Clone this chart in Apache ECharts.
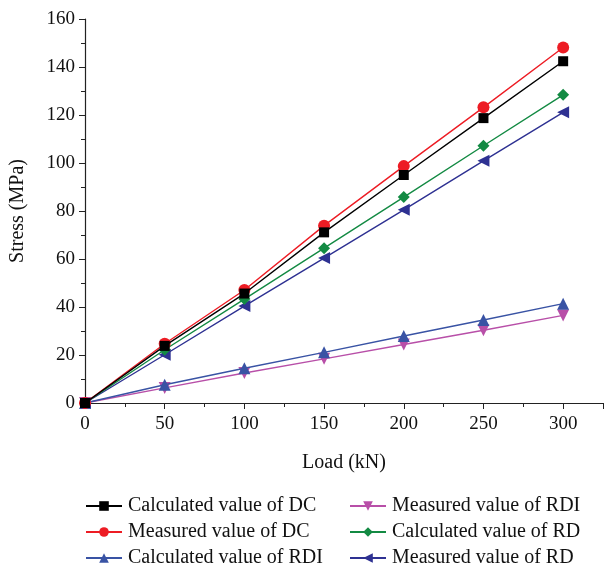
<!DOCTYPE html>
<html><head><meta charset="utf-8">
<script src="https://cdn.jsdelivr.net/npm/echarts@6/dist/echarts.min.js"></script>
<style>html,body{margin:0;padding:0;background:#fff}#c{width:606px;height:567px}</style>
</head><body><div id="c"></div>
<script>
const loads = [0, 50, 100, 150, 200, 250, 300];
const calcDC  = [0, 23.8, 45.6, 71.1, 95.0, 118.7, 142.4];
const measDC  = [0, 24.7, 47.1, 73.9, 98.7, 123.2, 148.1];
const calcRDI = [0, 7.6, 14.5, 21.1, 27.9, 34.6, 41.4];
const measRDI = [0, 6.3, 12.5, 18.4, 24.4, 30.3, 36.5];
const calcRD  = [0, 22.2, 43.3, 64.5, 85.8, 107.2, 128.4];
const measRD  = [0, 20.1, 40.4, 60.4, 80.5, 100.9, 121.1];

const names = ['Calculated value of DC','Measured value of DC','Calculated value of RDI','Measured value of RDI','Calculated value of RD','Measured value of RD'];
const values = [calcDC, measDC, calcRDI, measRDI, calcRD, measRD];
const colors = ['#000000','#ed1c24','#3953a4','#b84fa8','#138a43','#2e3192'];
const symbols = ['rect','circle','triangle','triangle','diamond','triangle'];
const rotates = [0,0,0,180,0,90];
const sizes = [10,12,12,12,12,12];

const font = 'Liberation Serif';
const legendText = {fontFamily:font,fontSize:20,color:'#111',padding:[0,0,0,1]};
const chart = echarts.init(document.getElementById('c'));
chart.setOption({
  animation:false,
  grid:{left:84,top:19,right:3,bottom:164,containLabel:false},
  xAxis:{type:'value',min:0,max:325,interval:50,
    name:'Load (kN)',nameLocation:'middle',nameGap:50,
    nameTextStyle:{fontFamily:font,fontSize:20,color:'#111'},
    axisLine:{show:true,onZero:false,lineStyle:{color:'#222',width:1.2}},
    axisTick:{show:true,length:6,lineStyle:{color:'#222'}},
    minorTick:{show:true,splitNumber:2,length:4,lineStyle:{color:'#222'}},
    splitLine:{show:false},
    axisLabel:{fontFamily:font,fontSize:19,color:'#111',margin:12,showMaxLabel:false,
      formatter:v=> v>300?'':String(v)}
  },
  yAxis:{type:'value',min:0,max:160,interval:20,
    name:'Stress (MPa)',nameLocation:'middle',nameGap:57,
    nameTextStyle:{fontFamily:font,fontSize:20,color:'#111'},
    axisLine:{show:true,onZero:false,lineStyle:{color:'#222',width:1.2}},
    axisTick:{show:true,length:6,lineStyle:{color:'#222'}},
    minorTick:{show:true,splitNumber:2,length:4,lineStyle:{color:'#222'}},
    splitLine:{show:false},
    axisLabel:{fontFamily:font,fontSize:19,color:'#111',margin:10}
  },
  legend:[
    {orient:'vertical',left:80,top:491,height:90,itemWidth:36,itemHeight:12,itemGap:6,
     textStyle:legendText,data:names.slice(0,3)},
    {orient:'vertical',left:344,top:491,height:90,itemWidth:36,itemHeight:12,itemGap:6,
     textStyle:legendText,data:names.slice(3,6)}
  ],
  series: names.map((n,i)=>({
    name:n,type:'line',
    data:loads.map((x,j)=>[x,values[i][j]]),
    symbol:symbols[i],symbolSize:sizes[i],symbolRotate:rotates[i],
    showAllSymbol:true,
    lineStyle:{color:colors[i],width:1.4},
    itemStyle:{color:colors[i]},
    z:10-i
  }))
});
</script></body></html>
